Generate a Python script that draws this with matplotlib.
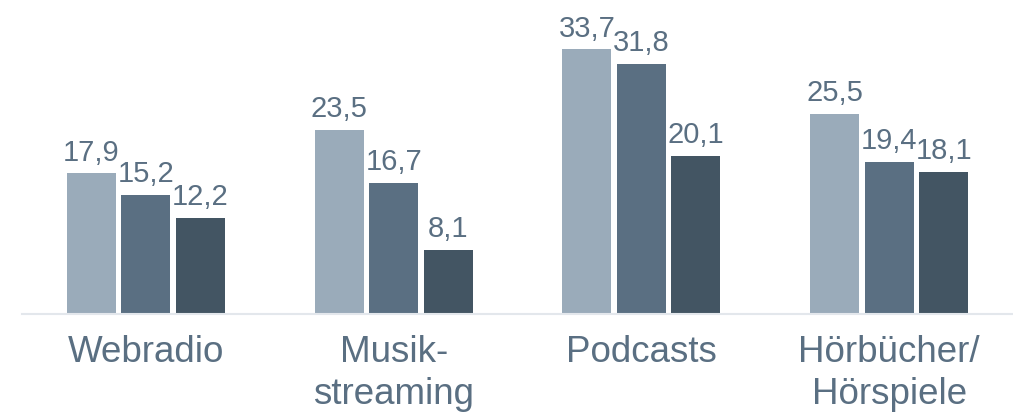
import matplotlib.pyplot as plt
import numpy as np

plt.rcParams['font.family'] = ['Liberation Sans', 'DejaVu Sans']

categories = ['Webradio', 'Musik-\nstreaming', 'Podcasts', 'Hörbücher/\nHörspiele']
series_a = [17.9, 23.5, 33.7, 25.5]
series_b = [15.2, 16.7, 31.8, 19.4]
series_c = [12.2, 8.1, 20.1, 18.1]

colors = ['#9AABBA', '#5A6F82', '#435563']
text_color = '#5A6F82'

WIDTH = 0.198
STEP = 0.22

fig = plt.figure(figsize=(10.13, 4.13), dpi=100)
ax = fig.add_axes([22 / 1013, 99 / 413, 991 / 1013, 314 / 413])

x = np.arange(len(categories))
for i, vals in enumerate([series_a, series_b, series_c]):
    bars = ax.bar(x + (i - 1) * STEP, vals, WIDTH, color=colors[i])
    for b, v in zip(bars, vals):
        ax.annotate(('%.1f' % v).replace('.', ','),
                    (b.get_x() + b.get_width() / 2, v),
                    xytext=(0, 5), textcoords='offset points',
                    ha='center', va='bottom', fontsize=21, color=text_color)

ax.set_xlim(-0.5, 3.5)
ax.set_ylim(0, 40)
ax.set_xticks(x)
ax.set_xticklabels(categories, fontsize=26.5, color=text_color, linespacing=1.25)
ax.tick_params(axis='x', length=0, pad=15)
ax.set_yticks([])
for s in ['top', 'right', 'left']:
    ax.spines[s].set_visible(False)
ax.spines['bottom'].set_color('#E3E7EC')
ax.spines['bottom'].set_linewidth(1.5)

fig.savefig('out.png', dpi=100)
